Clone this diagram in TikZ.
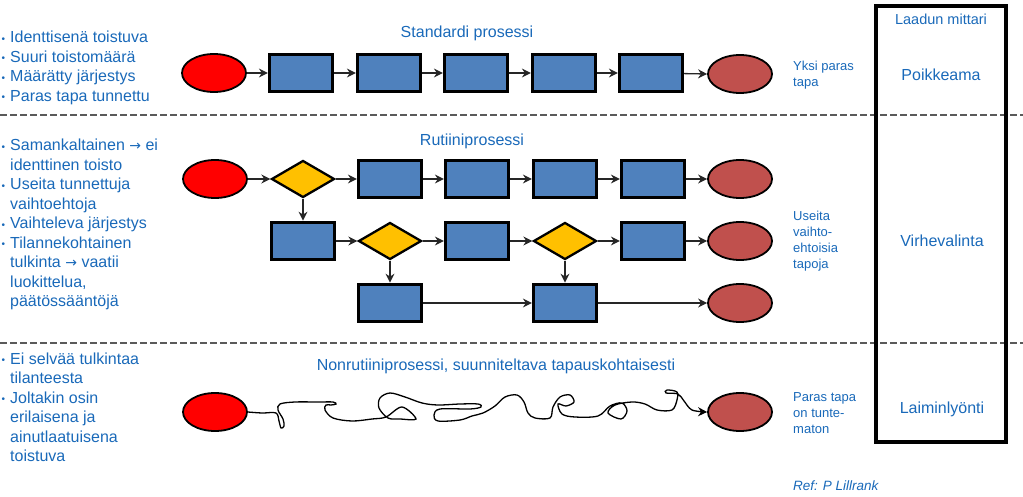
\documentclass[tikz,border=0pt]{standalone}
\usepackage{fontspec}
\setmainfont{Liberation Sans}
\newfontfamily\arrowfont{DejaVu Sans}
\usetikzlibrary{shapes.geometric,arrows.meta}
\definecolor{txtblue}{RGB}{25,105,185}
\definecolor{boxblue}{RGB}{79,129,189}
\definecolor{startred}{RGB}{255,0,0}
\definecolor{endred}{RGB}{192,80,77}
\definecolor{decyellow}{RGB}{255,192,0}
\definecolor{sepgray}{RGB}{90,90,90}
\newcommand\bulitem{\makebox[10pt][l]{\hspace{1.5pt}\raisebox{0.8pt}{\fontsize{10}{10}\selectfont •}}}
\newcommand\contitem{\hspace*{10pt}}
\newcommand\txtarrow{{\arrowfont\fontsize{14}{14}\selectfont →}}
\tikzset{
  procbox/.style={rectangle, draw=black, line width=3.2pt, fill=boxblue, minimum width=63pt, minimum height=37.5pt, inner sep=0pt},
  startell/.style={ellipse, draw=black, line width=1.8pt, fill=startred, minimum width=64pt, minimum height=38pt, inner sep=0pt},
  endell/.style={startell, fill=endred},
  decision/.style={diamond, draw=black, line width=2.3pt, fill=decyellow, minimum width=63pt, minimum height=37pt, inner sep=0pt},
  flow/.style={draw=black!85, line width=1.3pt, -{Stealth[length=9pt,width=9pt]}},
  scribble/.style={draw=black, line width=1.3pt, -{Stealth[length=9pt,width=9pt]}},
  sepline/.style={draw=sepgray, line width=1.2pt, dash pattern=on 7pt off 3pt},
  meterbox/.style={rectangle, draw=black, line width=4pt, minimum width=130pt, minimum height=436pt, inner sep=0pt},
  title/.style={text=txtblue, font=\fontsize{16}{19.5}\selectfont, inner sep=0pt},
  bigtxt/.style={text=txtblue, font=\fontsize{16}{19.5}\selectfont, inner sep=0pt},
  bullets/.style={text=txtblue, font=\fontsize{16}{19.5}\selectfont, inner sep=0pt, anchor=base west},
  sidenote/.style={text=txtblue, font=\fontsize{13}{16}\selectfont, inner sep=0pt, anchor=west, align=left},
}
\begin{document}
\begin{tikzpicture}[x=1pt,y=-1pt]
\useasboundingbox (0,0) rectangle (1023,497);

% separators
\draw[sepline] (0,115) -- (1023,115);
\draw[sepline] (0,343) -- (1023,343);

% quality meter box
\node[meterbox] (meter) at (941,224) {};
\node[bigtxt, font=\fontsize{14.5}{17}\selectfont] (mtitle) at (941,19) {Laadun mittari};
\node[bigtxt] (m1) at (941,75) {Poikkeama};
\node[bigtxt] (m2) at (942,241) {Virhevalinta};
\node[bigtxt] (m3) at (942,409) {Laiminlyönti};

% left bullet texts
\node[bullets] (t1) at (0,43) {\begin{tabular}[t]{@{}l@{}}
\bulitem Identtisenä toistuva\\
\bulitem Suuri toistomäärä\\
\bulitem Määrätty järjestys\\
\bulitem Paras tapa tunnettu
\end{tabular}};
\node[bullets] (t2) at (0,151) {\begin{tabular}[t]{@{}l@{}}
\bulitem Samankaltainen \txtarrow{} ei\\
\contitem identtinen toisto\\
\bulitem Useita tunnettuja\\
\contitem vaihtoehtoja\\
\bulitem Vaihteleva järjestys\\
\bulitem Tilannekohtainen\\
\contitem tulkinta \txtarrow{} vaatii\\
\contitem luokittelua,\\
\contitem päätössääntöjä
\end{tabular}};
\node[bullets] (t3) at (0,364) {\begin{tabular}[t]{@{}l@{}}
\bulitem Ei selvää tulkintaa\\
\contitem tilanteesta\\
\bulitem Joltakin osin\\
\contitem erilaisena ja\\
\contitem ainutlaatuisena\\
\contitem toistuva
\end{tabular}};

% titles
\node[title] (h1) at (467,33) {Standardi prosessi};
\node[title] (h2) at (472,141) {Rutiiniprosessi};
\node[title] (h3) at (496,366) {Nonrutiiniprosessi, suunniteltava tapauskohtaisesti};

% side notes
\node[sidenote] (n1) at (793,75) {Yksi paras\\tapa};
\node[sidenote] (n2) at (793,241.5) {Useita\\vaihto-\\ehtoisia\\tapoja};
\node[sidenote] (n3) at (793,413) {Paras tapa\\on tunte-\\maton};
\node[sidenote, font=\fontsize{13.5}{16}\selectfont\itshape] (ref) at (793,486) {Ref: P Lillrank};

% row 1: standard process
\node[startell] (s1) at (214,73) {};
\node[procbox] (b11) at (301,73) {};
\node[procbox] (b12) at (389,73) {};
\node[procbox] (b13) at (476,73) {};
\node[procbox] (b14) at (564,73) {};
\node[procbox] (b15) at (651,73) {};
\node[endell] (e1) at (740,74) {};
\draw[flow] (s1) -- (b11);
\draw[flow] (b11) -- (b12);
\draw[flow] (b12) -- (b13);
\draw[flow] (b13) -- (b14);
\draw[flow] (b14) -- (b15);
\draw[flow] (b15) -- (e1.west);

% row 2: routine process
\node[startell] (s2) at (215,179) {};
\node[decision] (d21) at (303,179) {};
\node[procbox] (b21) at (390,179) {};
\node[procbox] (b22) at (477,179) {};
\node[procbox] (b23) at (565,179) {};
\node[procbox] (b24) at (653,179) {};
\node[endell] (e21) at (740,179) {};

\node[procbox] (b31) at (303,241) {};
\node[decision] (d31) at (390,241) {};
\node[procbox] (b32) at (477,241) {};
\node[decision] (d32) at (565,241) {};
\node[procbox] (b33) at (653,241) {};
\node[endell] (e22) at (740,241) {};

\node[procbox] (b41) at (390,303) {};
\node[procbox] (b42) at (565,303) {};
\node[endell] (e23) at (740,303) {};

\draw[flow] (s2) -- (d21);
\draw[flow] (d21) -- (b21);
\draw[flow] (b21) -- (b22);
\draw[flow] (b22) -- (b23);
\draw[flow] (b23) -- (b24);
\draw[flow] (b24) -- (e21);
\draw[flow] (d21) -- (b31);
\draw[flow] (b31) -- (d31);
\draw[flow] (d31) -- (b32);
\draw[flow] (b32) -- (d32);
\draw[flow] (d32) -- (b33);
\draw[flow] (b33) -- (e22);
\draw[flow] (d31) -- (b41);
\draw[flow] (d32) -- (b42);
\draw[flow] (b41) -- (b42);
\draw[flow] (b42) -- (e23);

% row 3: non-routine process
\node[startell] (s3) at (215,412) {};
\node[endell] (e3) at (740,412) {};
\draw[scribble] plot[smooth, tension=0.55] coordinates {
 (s3.east) (262,413) (276,413) (279,421) (281,428) (284,426) (283,419) (278,410) (280,404)
 (295,402) (318,402) (333,402) (336,404) (331,405) (326,405) (325,410) (333,418) (352,421)
 (372,419) (386,417) (402,407) (416,419) (400,419) (388,418) (379,408) (380,398) (390,393)
 (405,397) (422,403) (438,405) (460,404) (478,404) (481,407) (470,409) (440,409) (434,415)
 (438,421) (460,420) (472,416) (483,413) (495,406) (505,397) (517,395) (524,402) (528,413)
 (535,418) (550,418) (553,407) (560,397) (570,395) (574,402) (566,406) (558,404) (562,414)
 (575,417) (598,416) (610,406) (622,403) (627,411) (621,419) (608,413) (615,405) (632,402)
 (645,404) (657,410) (672,410) (677,400) (677,392) (667,390) (666,393) (678,394) (684,401)
 (692,410) (e3.west)};
\end{tikzpicture}
\end{document}
